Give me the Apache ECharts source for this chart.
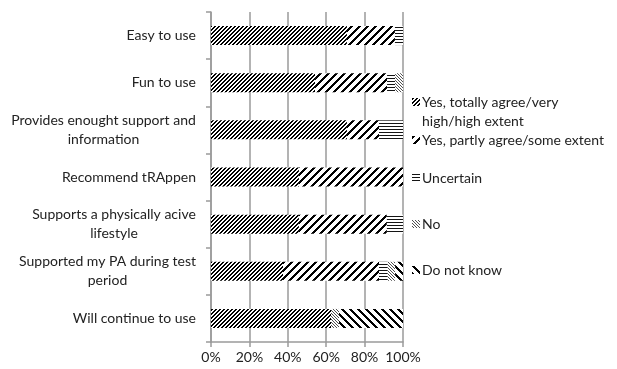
<!DOCTYPE html>
<html>
<head>
<meta charset="utf-8">
<script src="https://cdn.jsdelivr.net/npm/echarts@6/dist/echarts.min.js"></script>
<style>
  html, body { margin: 0; padding: 0; background: #fff; }
  #chart { width: 617px; height: 369px; }
</style>
</head>
<body>
<div id="chart"></div>
<script>
// Statements about the app, top to bottom
const statements = [
  'Easy to use',
  'Fun to use',
  'Provides enought support and\ninformation',
  'Recommend tRAppen',
  'Supports a physically acive\nlifestyle',
  'Supported my PA during test\nperiod',
  'Will continue to use'
];

// Answer shares in percent, one value per statement
const yesTotally = [70.8, 54.2, 70.8, 45.8, 45.8, 37.5, 62.5];
const yesPartly  = [25.0, 37.5, 16.7, 54.2, 45.8, 50.0, 0];
const uncertain  = [4.2, 4.2, 12.5, 0, 8.4, 4.2, 0];
const answerNo   = [0, 4.1, 0, 0, 0, 4.2, 4.2];
const doNotKnow  = [0, 0, 0, 0, 0, 4.1, 33.3];

const answerNames = [
  'Yes, totally agree/very high/high extent',
  'Yes, partly agree/some extent',
  'Uncertain',
  'No',
  'Do not know'
];

const tickLabels = ['0%', '20%', '40%', '60%', '80%', '100%'];

const FONT = 'Lato, "Noto Sans", sans-serif';
const FONT_SIZE = 14;

// Build a repeating hatch tile; test(x, y) decides whether a pixel is ink
function hatch(size, test, ink) {
  const c = document.createElement('canvas');
  c.width = size; c.height = size;
  const ctx = c.getContext('2d');
  const img = ctx.createImageData(size, size);
  for (let y = 0; y < size; y++) {
    for (let x = 0; x < size; x++) {
      const i = (y * size + x) * 4;
      const v = test(x, y) ? ink : 255;
      img.data[i] = v; img.data[i + 1] = v; img.data[i + 2] = v; img.data[i + 3] = 255;
    }
  }
  ctx.putImageData(img, 0, 0);
  return { image: c, repeat: 'repeat' };
}

const fills = [
  hatch(4, (x, y) => ((x + y) % 4) < 2, 0),          // dense upward diagonal
  hatch(8, (x, y) => ((x + y) % 8) < 3, 0),          // wide upward diagonal
  hatch(3, (x, y) => (y % 3) < 1, 20),               // narrow horizontal
  hatch(3, (x, y) => ((x - y + 30) % 3) < 1, 80),    // light downward diagonal
  hatch(8, (x, y) => ((x - y + 80) % 8) < 3, 0)      // wide downward diagonal
];

// Wrapped category labels: block right-aligned, lines centred within it
const measureCtx = document.createElement('canvas').getContext('2d');
measureCtx.font = FONT_SIZE + 'px ' + FONT;
const richStyles = {};
const categoryLabels = statements.map((s, idx) => {
  const lines = s.split('\n');
  if (lines.length === 1) return s;
  const w = Math.ceil(measureCtx.measureText(lines[0]).width);
  const key = 'w' + idx;
  richStyles[key] = { width: w, align: 'center', fontFamily: FONT, fontSize: FONT_SIZE, color: '#222', lineHeight: 19 };
  return lines.map(l => '{' + key + '|' + l + '}').join('\n');
});

const seriesData = [yesTotally, yesPartly, uncertain, answerNo, doNotKnow];

const series = seriesData.map((vals, k) => ({
  name: answerNames[k],
  type: 'bar',
  stack: 'all',
  barWidth: 19,
  data: vals,
  itemStyle: { color: fills[k] },
  emphasis: { disabled: true }
}));

// One legend block per answer so each sits at its own height
const legendTops = [68.5, 125.5, 163.5, 209.5, 255.5];
const legends = answerNames.map((n, k) => ({
  data: [n],
  orient: 'vertical',
  left: 407,
  top: legendTops[k],
  itemWidth: 8,
  itemHeight: 8,
  itemGap: 0,
  icon: 'rect',
  selectedMode: false,
  formatter: k === 0 ? () => ' \nYes, totally agree/very\nhigh/high extent' : '{name}',
  textStyle: { fontFamily: FONT, fontSize: FONT_SIZE, color: '#222', lineHeight: 19, padding: [0, 0, 0, -3] }
}));

const chart = echarts.init(document.getElementById('chart'), null, { renderer: 'canvas' });
chart.setOption({
  animation: false,
  backgroundColor: '#fff',
  grid: { left: 211, right: 214, top: 12, bottom: 27, containLabel: false },
  legend: legends,
  xAxis: {
    type: 'value',
    min: 0,
    max: 100,
    interval: 20,
    axisLine: { show: true, lineStyle: { color: '#9a9a9a', width: 1.5 } },
    axisTick: { show: true, length: 5, lineStyle: { color: '#9a9a9a', width: 1.5 } },
    splitLine: { show: true, lineStyle: { color: '#9a9a9a', width: 1.5 } },
    axisLabel: {
      margin: 8,
      fontFamily: FONT,
      fontSize: FONT_SIZE,
      color: '#222',
      formatter: v => tickLabels[Math.round(v / 20)]
    }
  },
  yAxis: {
    type: 'category',
    inverse: true,
    data: categoryLabels,
    axisLine: { show: true, lineStyle: { color: '#9a9a9a', width: 1.5 } },
    axisTick: { show: true, length: 5, alignWithLabel: false, lineStyle: { color: '#9a9a9a', width: 1.5 } },
    axisLabel: {
      margin: 15,
      fontFamily: FONT,
      fontSize: FONT_SIZE,
      color: '#222',
      lineHeight: 19,
      rich: richStyles
    }
  },
  series: series
});
</script>
</body>
</html>
